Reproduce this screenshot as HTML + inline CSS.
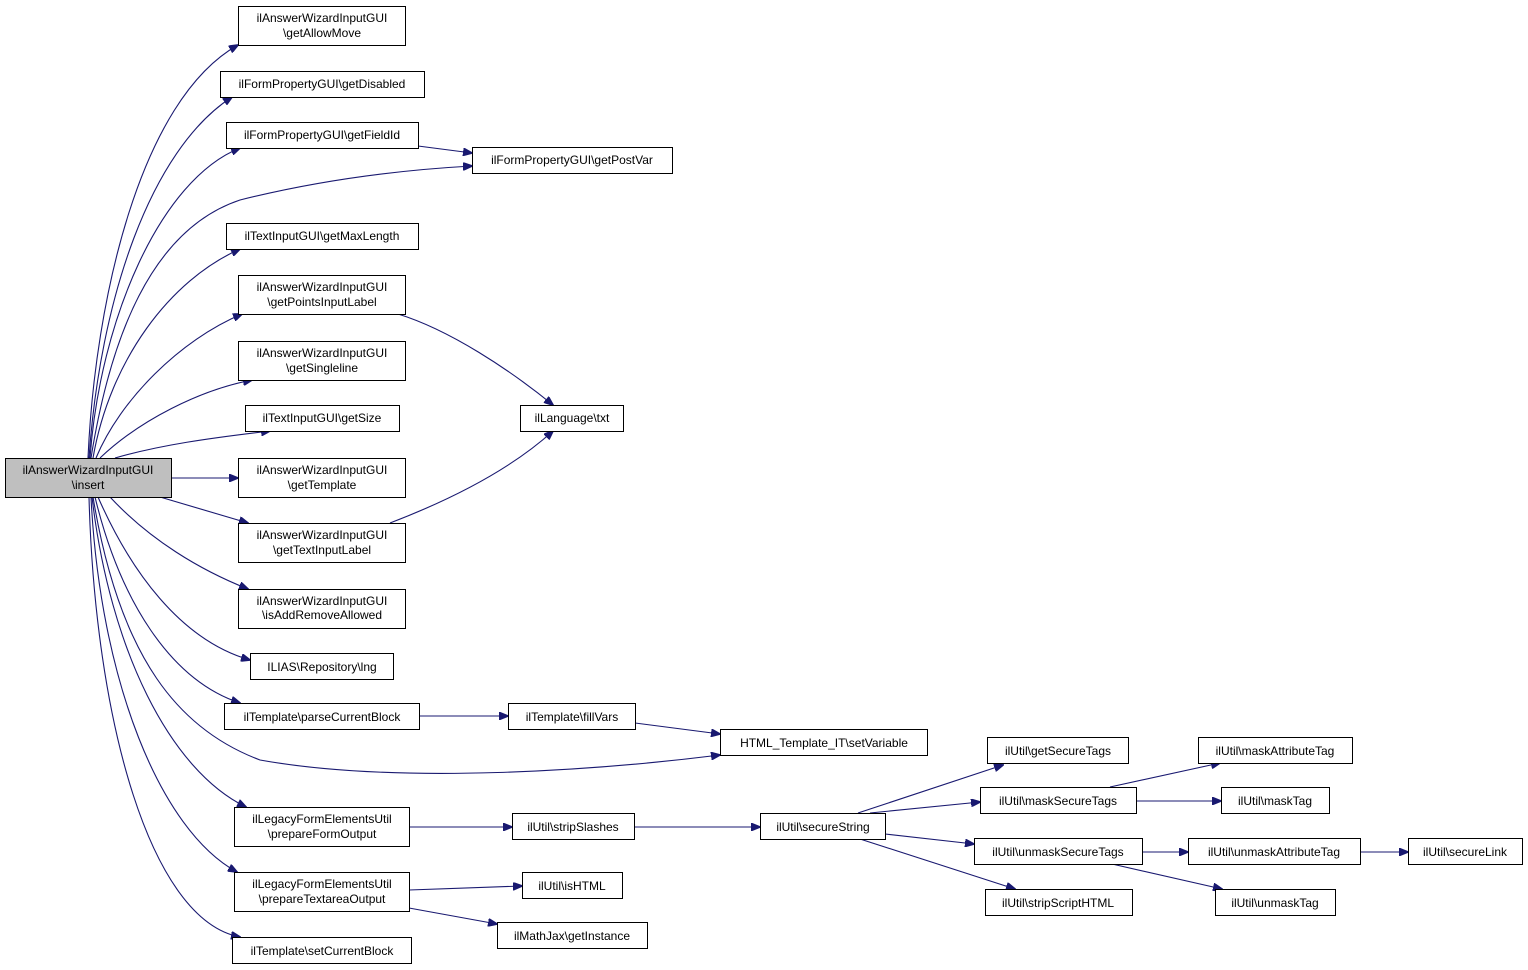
<!DOCTYPE html>
<html><head><meta charset="utf-8"><style>
html,body{margin:0;padding:0;background:#fff;}
svg{display:block;}
text{font-family:"Liberation Sans",sans-serif;font-size:12px;fill:#000;}
.n{fill:#fff;stroke:#000;stroke-width:1;}
.e{fill:none;stroke:#191970;stroke-width:1.1;}
</style></head><body>
<svg width="1528" height="970" viewBox="0 0 1528 970" xmlns="http://www.w3.org/2000/svg">
<defs><marker id="a" markerWidth="10" markerHeight="8" refX="9" refY="4" orient="auto" markerUnits="userSpaceOnUse"><path d="M0,0 L10,4 L0,8 Z" fill="#191970" stroke="#191970"/></marker></defs>
<g class="e" marker-end="url(#a)">
<path d="M88,458 C95,300 140,100 238,45"/>
<path d="M89,458 C100,300 150,150 232,97"/>
<path d="M90,458 C100,320 160,180 240,148"/>
<path d="M91,458 C110,340 150,230 240,200 C320,180 400,170 472,166"/>
<path d="M93,458 C110,360 170,280 240,249"/>
<path d="M96,458 C120,400 180,340 242,314"/>
<path d="M100,458 C140,420 200,390 252,380"/>
<path d="M115,458 C160,445 210,438 270,431"/>
<path d="M172,478 L238,478"/>
<path d="M160,497 L248,523"/>
<path d="M110,497 C150,540 200,570 248,589"/>
<path d="M98,497 C130,570 180,640 250,660"/>
<path d="M95,497 C120,600 170,680 240,703"/>
<path d="M93,497 C120,660 180,730 260,760 C400,785 600,770 720,755"/>
<path d="M92,497 C110,650 170,770 246,807"/>
<path d="M91,497 C100,680 160,830 237,872"/>
<path d="M89,497 C95,720 150,920 240,937"/>
<path d="M418,146 L472,153"/>
<path d="M398,314 C450,330 510,370 553,405"/>
<path d="M390,523 C450,500 510,470 553,431"/>
<path d="M419,716 L508,716"/>
<path d="M635,723 L720,734"/>
<path d="M409,827 L512,827"/>
<path d="M409,890 L522,886"/>
<path d="M409,908 L497,924"/>
<path d="M634,827 L760,827"/>
<path d="M858,813 L1003,765"/>
<path d="M870,813 L980,802"/>
<path d="M885,834 L974,844"/>
<path d="M860,839 L1015,889"/>
<path d="M1110,787 L1220,763"/>
<path d="M1136,801 L1221,801"/>
<path d="M1142,852 L1188,852"/>
<path d="M1112,864 L1222,889"/>
<path d="M1360,852 L1408,852"/>
</g>
<rect x="5.5" y="458.5" width="166" height="39" fill="#bfbfbf" stroke="#000"/>
<text x="88" y="474" text-anchor="middle">ilAnswerWizardInputGUI</text><text x="88" y="489" text-anchor="middle">\insert</text>
<g>
<rect class="n" x="238.5" y="6.5" width="167" height="39"/><text x="322" y="22" text-anchor="middle">ilAnswerWizardInputGUI</text><text x="322" y="37" text-anchor="middle">\getAllowMove</text>
<rect class="n" x="220.5" y="71.5" width="204" height="26"/><text x="322" y="88" text-anchor="middle">ilFormPropertyGUI\getDisabled</text>
<rect class="n" x="226.5" y="122.5" width="192" height="26"/><text x="322" y="139" text-anchor="middle">ilFormPropertyGUI\getFieldId</text>
<rect class="n" x="472.5" y="147.5" width="200" height="26"/><text x="572" y="164" text-anchor="middle">ilFormPropertyGUI\getPostVar</text>
<rect class="n" x="226.5" y="223.5" width="192" height="26"/><text x="322" y="240" text-anchor="middle">ilTextInputGUI\getMaxLength</text>
<rect class="n" x="238.5" y="275.5" width="167" height="39"/><text x="322" y="291" text-anchor="middle">ilAnswerWizardInputGUI</text><text x="322" y="306" text-anchor="middle">\getPointsInputLabel</text>
<rect class="n" x="238.5" y="341.5" width="167" height="39"/><text x="322" y="357" text-anchor="middle">ilAnswerWizardInputGUI</text><text x="322" y="372" text-anchor="middle">\getSingleline</text>
<rect class="n" x="245.5" y="405.5" width="154" height="26"/><text x="322" y="422" text-anchor="middle">ilTextInputGUI\getSize</text>
<rect class="n" x="238.5" y="458.5" width="167" height="39"/><text x="322" y="474" text-anchor="middle">ilAnswerWizardInputGUI</text><text x="322" y="489" text-anchor="middle">\getTemplate</text>
<rect class="n" x="238.5" y="523.5" width="167" height="39"/><text x="322" y="539" text-anchor="middle">ilAnswerWizardInputGUI</text><text x="322" y="554" text-anchor="middle">\getTextInputLabel</text>
<rect class="n" x="238.5" y="589.5" width="167" height="39"/><text x="322" y="605" text-anchor="middle">ilAnswerWizardInputGUI</text><text x="322" y="619" text-anchor="middle">\isAddRemoveAllowed</text>
<rect class="n" x="250.5" y="653.5" width="143" height="26"/><text x="322" y="671" text-anchor="middle">ILIAS\Repository\lng</text>
<rect class="n" x="224.5" y="703.5" width="195" height="26"/><text x="322" y="721" text-anchor="middle">ilTemplate\parseCurrentBlock</text>
<rect class="n" x="234.5" y="807.5" width="175" height="39"/><text x="322" y="823" text-anchor="middle">ilLegacyFormElementsUtil</text><text x="322" y="838" text-anchor="middle">\prepareFormOutput</text>
<rect class="n" x="234.5" y="872.5" width="175" height="39"/><text x="322" y="888" text-anchor="middle">ilLegacyFormElementsUtil</text><text x="322" y="903" text-anchor="middle">\prepareTextareaOutput</text>
<rect class="n" x="232.5" y="937.5" width="179" height="26"/><text x="322" y="955" text-anchor="middle">ilTemplate\setCurrentBlock</text>
<rect class="n" x="520.5" y="405.5" width="103" height="26"/><text x="572" y="422" text-anchor="middle">ilLanguage\txt</text>
<rect class="n" x="508.5" y="703.5" width="127" height="26"/><text x="572" y="721" text-anchor="middle">ilTemplate\fillVars</text>
<rect class="n" x="720.5" y="729.5" width="207" height="26"/><text x="824" y="747" text-anchor="middle">HTML_Template_IT\setVariable</text>
<rect class="n" x="512.5" y="813.5" width="122" height="26"/><text x="573" y="831" text-anchor="middle">ilUtil\stripSlashes</text>
<rect class="n" x="522.5" y="872.5" width="100" height="26"/><text x="572" y="890" text-anchor="middle">ilUtil\isHTML</text>
<rect class="n" x="497.5" y="922.5" width="150" height="26"/><text x="572" y="940" text-anchor="middle">ilMathJax\getInstance</text>
<rect class="n" x="760.5" y="813.5" width="125" height="26"/><text x="823" y="831" text-anchor="middle">ilUtil\secureString</text>
<rect class="n" x="987.5" y="737.5" width="141" height="26"/><text x="1058" y="755" text-anchor="middle">ilUtil\getSecureTags</text>
<rect class="n" x="980.5" y="787.5" width="156" height="26"/><text x="1058" y="805" text-anchor="middle">ilUtil\maskSecureTags</text>
<rect class="n" x="974.5" y="838.5" width="168" height="26"/><text x="1058" y="856" text-anchor="middle">ilUtil\unmaskSecureTags</text>
<rect class="n" x="985.5" y="889.5" width="147" height="26"/><text x="1058" y="907" text-anchor="middle">ilUtil\stripScriptHTML</text>
<rect class="n" x="1198.5" y="737.5" width="154" height="26"/><text x="1275" y="755" text-anchor="middle">ilUtil\maskAttributeTag</text>
<rect class="n" x="1221.5" y="787.5" width="108" height="26"/><text x="1275" y="805" text-anchor="middle">ilUtil\maskTag</text>
<rect class="n" x="1188.5" y="838.5" width="172" height="26"/><text x="1274" y="856" text-anchor="middle">ilUtil\unmaskAttributeTag</text>
<rect class="n" x="1215.5" y="889.5" width="120" height="26"/><text x="1275" y="907" text-anchor="middle">ilUtil\unmaskTag</text>
<rect class="n" x="1408.5" y="838.5" width="114" height="26"/><text x="1465" y="856" text-anchor="middle">ilUtil\secureLink</text>
</g>
</svg>
</body></html>
